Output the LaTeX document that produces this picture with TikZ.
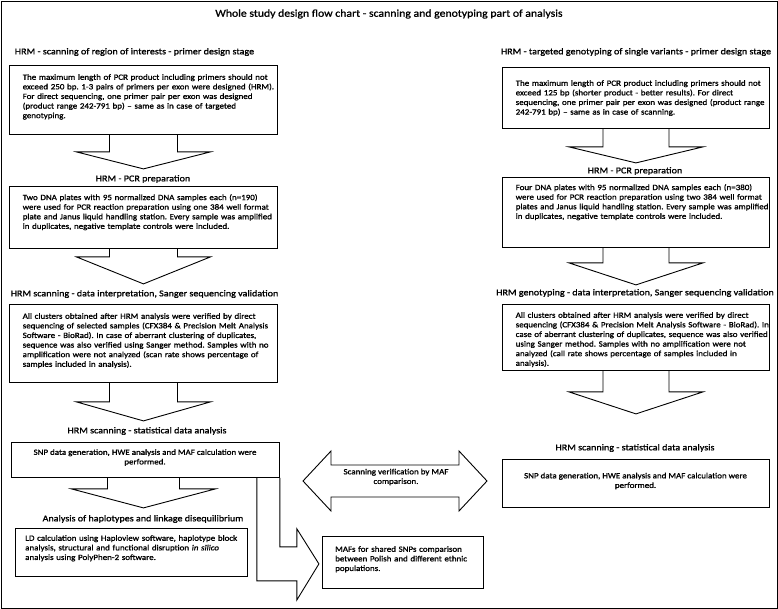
\documentclass[tikz,border=0pt]{standalone}
\usepackage{fontspec}
\setmainfont{Carlito}[FakeStretch=1.12,FakeBold=1.2]
\usetikzlibrary{calc}
\frenchspacing
\newcommand{\jl}[1]{\makebox[\hsize][s]{#1}}
% node, dx, stemhalf, headhalf, stemlen, headlen
\newcommand{\barrow}[6]{%
  \draw[arr] ($(#1.south)+(#2-#3,0)$) -- ++(0,#5) -- ++(#3-#4,0)
    -- ($(#1.south)+(#2,#5+#6)$) -- ($(#1.south)+(#2+#4,#5)$)
    -- ++(#3-#4,0) -- ++(0,-#5);}
\begin{document}
\begin{tikzpicture}[x=1pt,y=-1pt,
  box/.style={draw, line width=0.9pt, fill=white, inner sep=0pt, anchor=north west},
  txt/.style={font=\fontsize{8}{9.6}\selectfont, align=left, inner sep=0pt, anchor=north west},
  ctxt/.style={font=\fontsize{8}{9.6}\selectfont, align=center, inner sep=0pt},
  head/.style={font=\fontsize{9}{11}\selectfont, inner sep=0pt},
  arr/.style={draw, line width=0.9pt, line join=miter}]
\useasboundingbox (0,0) rectangle (778,609);
\draw[line width=0.8pt] (1,1) rectangle (777,608);

\node[font=\fontsize{10.5}{13}\selectfont, inner sep=0pt] (title) at (389,14)
  {Whole study design flow chart - scanning and genotyping part of analysis};

% ---------------- left column ----------------
\node[head] (h1l) at (134.5,52) {HRM - scanning of region of interests - primer design stage};
\node[box, minimum width=268pt, minimum height=69pt] (b1l) at (9,65) {};
\node[txt, text width=241pt] (t1l) at (22.5,74) {%
\jl{The maximum length of PCR product including primers should not}\\
\jl{exceed 250 bp. 1-3 pairs of primers per exon were designed (HRM).}\\
\jl{For direct sequencing, one primer pair per exon was designed}\\
\jl{(product range 242-791 bp) – same as in case of targeted}\\
genotyping.};

\node[head] (h2l) at (143,179) {HRM - PCR preparation};
\node[box, minimum width=268pt, minimum height=62pt] (b2l) at (9,186) {};
\node[txt, text width=241pt] (t2l) at (22.5,194) {%
\jl{Two DNA plates with 95 normalized DNA samples each (n=190)}\\
\jl{were used for PCR reaction preparation using one 384 well format}\\
\jl{plate and Janus liquid handling station. Every sample was amplified}\\
in duplicates, negative template controls were included.};

\node[head] (h3l) at (144.5,294) {HRM scanning - data interpretation, Sanger sequencing validation};
\node[box, minimum width=268pt, minimum height=78pt] (b3l) at (9,304) {};
\node[txt, text width=241pt] (t3l) at (22.5,313) {%
\jl{All clusters obtained after HRM analysis were verified by direct}\\
\jl{sequencing of selected samples (CFX384 \& Precision Melt Analysis}\\
\jl{Software - BioRad). In case of aberrant clustering of duplicates,}\\
\jl{sequence was also verified using Sanger method. Samples with no}\\
\jl{amplification were not analyzed (scan rate shows percentage of}\\
samples included in analysis).};

\node[head] (h4l) at (147,431) {HRM scanning - statistical data analysis};
\node[box, minimum width=268pt, minimum height=35pt] (b4l) at (11,442) {};
\node[ctxt] (t4l) at (145,457.5) {SNP data generation, HWE analysis and MAF calculation were\\performed.};

\node[head] (h5l) at (143,519) {Analysis of haplotypes and linkage disequilibrium};
\node[box, minimum width=232pt, minimum height=48pt] (b5l) at (15,528) {};
\node[txt, text width=212pt] (t5l) at (25,535) {%
\jl{LD calculation using Haploview software, haplotype block}\\
\jl{analysis, structural and functional disruption \textit{in silico}}\\
analysis using PolyPhen-2 software.};

\node[box, minimum width=161pt, minimum height=52pt] (bmaf) at (322,536) {};
\node[txt, text width=137pt] (tmaf) at (335,546) {%
\jl{MAFs for shared SNPs comparison}\\
\jl{between Polish and different ethnic}\\
populations.};

\barrow{b1l}{0}{34}{67}{17}{17}
\barrow{b2l}{0}{34}{67}{8}{27}
\barrow{b3l}{0}{34}{67}{19}{19}
\barrow{b4l}{-2}{36}{72}{11}{19}

% L-shaped arrow
\draw[arr] ($(b4l.south east)+(-23,0)$) -- ++(0,103) -- ++(40,0) -- ++(0,19)
  -- ++(22,-36) -- ++(-22,-35) -- ++(0,18) -- ++(-17,0) -- ++(0,-69);

% double arrow
\draw[arr] (303,481) -- (331,451) -- (331,465) -- (459,465) -- (459,451) -- (487,481)
  -- (459,511) -- (459,497) -- (331,497) -- (331,511) -- cycle;
\node[ctxt] (tdbl) at (396,477) {Scanning verification by MAF\\comparison.};

% ---------------- right column ----------------
\node[head] (h1r) at (636,52) {HRM - targeted genotyping of single variants - primer design stage};
\node[box, minimum width=267pt, minimum height=61pt] (b1r) at (502,67) {};
\node[txt, text width=241pt] (t1r) at (515.5,80) {%
\jl{The maximum length of PCR product including primers should not}\\
\jl{exceed 125 bp (shorter product - better results). For direct}\\
\jl{sequencing, one primer pair per exon was designed (product range}\\
242-791 bp) – same as in case of scanning.};

\node[head] (h2r) at (635,171) {HRM - PCR preparation};
\node[box, minimum width=267pt, minimum height=70pt] (b2r) at (502,177) {};
\node[txt, text width=241pt] (t2r) at (515.5,184) {%
\jl{Four DNA plates with 95 normalized DNA samples each (n=380)}\\
\jl{were used for PCR reaction preparation using two 384 well format}\\
\jl{plates and Janus liquid handling station. Every sample was amplified}\\
in duplicates, negative template controls were included.};

\node[head] (h3r) at (635,293) {HRM genotyping - data interpretation, Sanger sequencing validation};
\node[box, minimum width=267pt, minimum height=66pt] (b3r) at (502,304) {};
\node[txt, text width=241pt] (t3r) at (515.5,312) {%
\jl{All clusters obtained after HRM analysis were verified by direct}\\
\jl{sequencing (CFX384 \& Precision Melt Analysis Software - BioRad). In}\\
\jl{case of aberrant clustering of duplicates, sequence was also verified}\\
\jl{using Sanger method. Samples with no amplification were not}\\
\jl{analyzed (call rate shows percentage of samples included in}\\
analysis).};

\node[head] (h4r) at (635,448) {HRM scanning - statistical data analysis};
\node[box, minimum width=267pt, minimum height=48pt] (b4r) at (502,459) {};
\node[ctxt] (t4r) at (635.5,481) {SNP data generation, HWE analysis and MAF calculation were\\performed.};

\barrow{b1r}{0}{33}{67}{18}{16}
\barrow{b2r}{0}{33}{67}{15}{22}
\barrow{b3r}{0}{33}{67}{21}{22}
\end{tikzpicture}
\end{document}
